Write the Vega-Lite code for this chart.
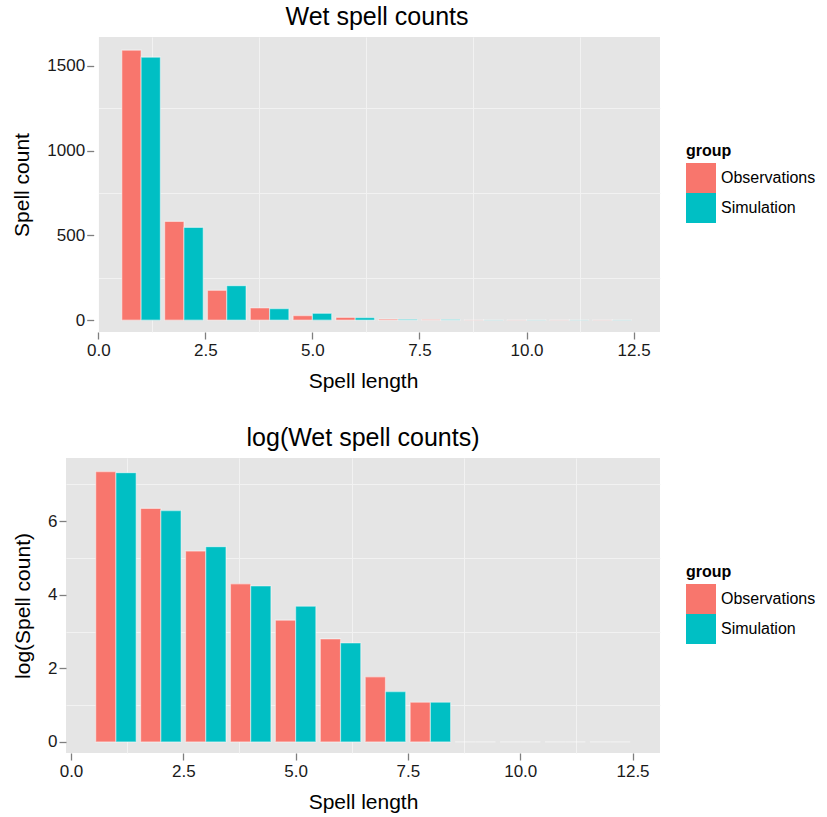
{
  "$schema": "https://vega.github.io/schema/vega-lite/v6.json",
  "padding": {"left": 11, "top": 5, "right": 5, "bottom": 5},
  "datasets": {
    "spells": [
      {"length": 1, "group": "Observations", "count": 1592, "logcount": 7.35},
      {"length": 1, "group": "Simulation", "count": 1551, "logcount": 7.32},
      {"length": 2, "group": "Observations", "count": 582, "logcount": 6.35},
      {"length": 2, "group": "Simulation", "count": 547, "logcount": 6.29},
      {"length": 3, "group": "Observations", "count": 176, "logcount": 5.19},
      {"length": 3, "group": "Simulation", "count": 203, "logcount": 5.31},
      {"length": 4, "group": "Observations", "count": 72, "logcount": 4.30},
      {"length": 4, "group": "Simulation", "count": 68, "logcount": 4.24},
      {"length": 5, "group": "Observations", "count": 27, "logcount": 3.31},
      {"length": 5, "group": "Simulation", "count": 40, "logcount": 3.69},
      {"length": 6, "group": "Observations", "count": 16, "logcount": 2.80},
      {"length": 6, "group": "Simulation", "count": 15, "logcount": 2.69},
      {"length": 7, "group": "Observations", "count": 6, "logcount": 1.77},
      {"length": 7, "group": "Simulation", "count": 4, "logcount": 1.37},
      {"length": 8, "group": "Observations", "count": 3, "logcount": 1.08},
      {"length": 8, "group": "Simulation", "count": 3, "logcount": 1.08},
      {"length": 9, "group": "Observations", "count": 1, "logcount": 0},
      {"length": 9, "group": "Simulation", "count": 1, "logcount": 0},
      {"length": 10, "group": "Observations", "count": 1, "logcount": 0},
      {"length": 10, "group": "Simulation", "count": 1, "logcount": 0},
      {"length": 11, "group": "Observations", "count": 1, "logcount": 0},
      {"length": 11, "group": "Simulation", "count": 1, "logcount": 0},
      {"length": 12, "group": "Observations", "count": 1, "logcount": 0},
      {"length": 12, "group": "Simulation", "count": 1, "logcount": 0}
    ]
  },
  "spacing": 35,
  "vconcat": [
    {
      "width": 594,
      "height": 295,
      "title": {"text": "Wet spell counts", "dx": 14},
      "data": {"name": "spells"},
      "transform": [
        {"calculate": "datum.length + (datum.group === 'Observations' ? -0.45 : 0)", "as": "lo"},
        {"calculate": "datum.lo + 0.45", "as": "hi"}
      ],
      "layer": [
        {
          "mark": {"type": "bar", "opacity": 0},
          "encoding": {
            "x": {"field": "lo", "type": "quantitative", "scale": {"domain": [-0.637, 13], "nice": false, "zero": false},
                  "axis": {"orient": "top", "values": [1.25, 3.75, 6.25, 8.75, 11.25], "labels": false, "ticks": false, "domain": false, "title": null, "gridColor": "#F2F2F2", "gridWidth": 1}},
            "y": {"field": "count", "type": "quantitative", "scale": {"domain": [-70, 1670], "nice": false, "zero": false},
                  "axis": {"orient": "right", "values": [250, 750, 1250], "labels": false, "ticks": false, "domain": false, "title": null, "gridColor": "#F2F2F2", "gridWidth": 1}}
          }
        },
        {
          "mark": {"type": "bar", "opacity": 0},
          "encoding": {
            "x": {"field": "lo", "type": "quantitative", "title": "Spell length",
                  "axis": {"orient": "bottom", "values": [0, 2.5, 5, 7.5, 10, 12.5], "format": ".1f"}},
            "y": {"field": "count", "type": "quantitative",
                  "axis": {"orient": "left", "values": [0, 500, 1000, 1500], "labels": false, "ticks": false, "domain": false, "title": null}}
          }
        },
        {
          "mark": {"type": "rect", "color": "white", "clip": true},
          "encoding": {
            "x": {"datum": -1, "type": "quantitative", "axis": null},
            "x2": {"datum": 0},
            "y": {"datum": -70, "type": "quantitative", "axis": null},
            "y2": {"datum": 1670}
          }
        },
        {
          "mark": {"type": "bar", "stroke": "white", "strokeOpacity": 0.45, "strokeWidth": 1.2},
          "encoding": {
            "x": {"field": "lo", "type": "quantitative", "axis": null},
            "x2": {"field": "hi"},
            "y": {"field": "count", "type": "quantitative", "title": "Spell count",
                  "axis": {"orient": "left", "offset": -27.7, "zindex": 1, "grid": false, "values": [0, 500, 1000, 1500], "format": "d"}},
            "y2": {"datum": 0},
            "color": {"field": "group", "type": "nominal",
                      "scale": {"domain": ["Observations", "Simulation"], "range": ["#F8766D", "#00BFC4"]},
                      "legend": {"orient": "none", "legendX": 620, "legendY": 106, "title": "group"}}
          }
        }
      ],
      "resolve": {"axis": {"x": "independent", "y": "independent"}}
    },
    {
      "width": 594,
      "height": 295,
      "title": {"text": "log(Wet spell counts)"},
      "data": {"name": "spells"},
      "transform": [
        {"calculate": "datum.length + (datum.group === 'Observations' ? -0.45 : 0)", "as": "lo"},
        {"calculate": "datum.lo + 0.45", "as": "hi"}
      ],
      "layer": [
        {
          "mark": {"type": "bar", "opacity": 0},
          "encoding": {
            "x": {"field": "lo", "type": "quantitative", "scale": {"domain": [0, 13], "nice": false, "zero": false},
                  "axis": {"orient": "top", "values": [1.25, 3.75, 6.25, 8.75, 11.25], "labels": false, "ticks": false, "domain": false, "title": null, "gridColor": "#F2F2F2", "gridWidth": 1}},
            "y": {"field": "logcount", "type": "quantitative", "scale": {"domain": [-0.3, 7.72], "nice": false, "zero": false},
                  "axis": {"orient": "right", "values": [1, 3, 5, 7], "labels": false, "ticks": false, "domain": false, "title": null, "gridColor": "#F2F2F2", "gridWidth": 1}}
          }
        },
        {
          "mark": {"type": "bar", "stroke": "white", "strokeOpacity": 0.45, "strokeWidth": 1.2},
          "encoding": {
            "x": {"field": "lo", "type": "quantitative", "title": "Spell length",
                  "axis": {"orient": "bottom", "values": [0, 2.5, 5, 7.5, 10, 12.5], "format": ".1f"}},
            "x2": {"field": "hi"},
            "y": {"field": "logcount", "type": "quantitative", "title": "log(Spell count)",
                  "axis": {"orient": "left", "values": [0, 2, 4, 6], "format": "d"}},
            "y2": {"datum": 0},
            "color": {"field": "group", "type": "nominal",
                      "scale": {"domain": ["Observations", "Simulation"], "range": ["#F8766D", "#00BFC4"]},
                      "legend": {"orient": "none", "legendX": 620, "legendY": 106, "title": "group"}}
          }
        }
      ],
      "resolve": {"axis": {"x": "independent", "y": "independent"}}
    }
  ],
  "resolve": {"legend": {"color": "independent"}, "scale": {"color": "independent"}},
  "config": {
    "font": "Liberation Sans",
    "view": {"fill": "#E5E5E5", "stroke": null},
    "axis": {
      "labelFontSize": 17, "labelColor": "#1a1a1a", "labelPadding": 3,
      "titleFontSize": 21, "titleFontWeight": "normal", "titleColor": "black", "titlePadding": 12,
      "tickColor": "#7f7f7f", "tickSize": 7, "tickWidth": 1.3,
      "domain": false, "gridColor": "white", "gridWidth": 2
    },
    "axisY": {"labelPadding": 2, "titlePadding": 14},
    "axisX": {"labelPadding": 3},
    "title": {"fontSize": 25, "fontWeight": "normal", "anchor": "middle", "frame": "group", "offset": 7, "color": "black"},
    "legend": {
      "titleFontSize": 16, "titleFontWeight": "bold", "titleColor": "black", "titlePadding": 4,
      "labelFontSize": 16, "labelColor": "black", "labelOffset": 5,
      "symbolType": "square", "symbolSize": 900, "symbolStrokeWidth": 0, "symbolOpacity": 1,
      "rowPadding": 0, "padding": 0
    }
  }
}
